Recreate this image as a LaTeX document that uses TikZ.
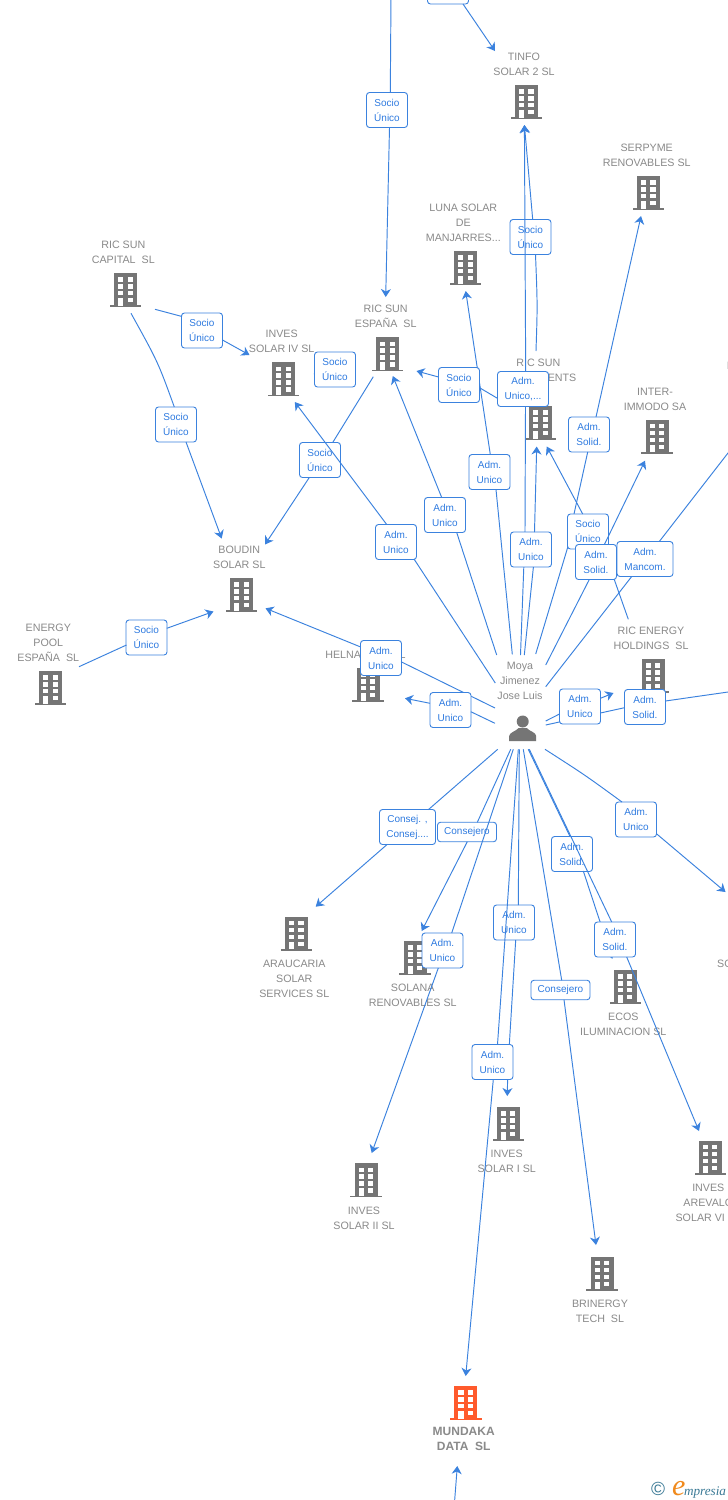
\documentclass[tikz,border=0pt]{standalone}
\usepackage{fontspec}
\setmainfont{Liberation Sans}
\newfontfamily\serifit[ItalicFont=Liberation Serif Italic]{Liberation Serif}
\usetikzlibrary{arrows.meta}
\definecolor{linkblue}{HTML}{3B82DE}
\definecolor{textblue}{HTML}{2F7BE0}
\definecolor{lblgray}{HTML}{8A8A8A}
\definecolor{bgray}{HTML}{757575}
\definecolor{borange}{HTML}{FF5A2C}
\definecolor{eteal}{HTML}{3B7A96}
\definecolor{eorange}{HTML}{F08A1D}
\newcommand\bp[3]{([shift={(#2,#3)}]#1.center)}
\newcommand\tower[1]{%
  \begin{scope}[shift={(path picture bounding box.center)}]
    \fill[#1] (-11.5,-17) rectangle (11.5,15.6);
    \fill[#1] (-15.7,15.4) rectangle (15.7,17);
    \foreach \yy in {-12.7,-5.9,1,8}{\fill[white] (-7.5,\yy) rectangle (-2.3,\yy+4.4);}
    \foreach \yy in {-12.7,-5.9,1,8}{\fill[white] (1.9,\yy) rectangle (7.1,\yy+4.4);}
    \fill[white] (-7.5,8) rectangle (-2.3,15.6);
  \end{scope}}
\tikzset{
  bldg/.style={minimum width=32,minimum height=34,inner sep=0,outer sep=0,path picture={\tower{bgray}}},
  bldgo/.style={minimum width=32,minimum height=34,inner sep=0,outer sep=0,path picture={\tower{borange}}},
  lbl/.style={align=center,inner sep=0,text=lblgray,yshift=-0.6pt,font=\fontsize{10.7}{15}\selectfont},
  boxn/.style={draw=linkblue,fill=white,line width=0.9pt,rounded corners=3pt,minimum width=41,minimum height=35,inner sep=0,outer sep=0,align=center,text=textblue,font=\fontsize{10}{15}\selectfont},
  edge/.style={draw=linkblue,line width=0.95pt},
  arr/.style={edge,-{Stealth[length=8pt,width=10pt,inset=2.5pt]}},
}
\begin{document}
\begin{tikzpicture}[x=1pt,y=-1pt]
\useasboundingbox (0,0) rectangle (728,1500);
\clip (0,0) rectangle (728,1500);
\fill[white] (0,0) rectangle (728,1500);
% companies
\node[bldg] (tinfo) at (526.5,102) {};
\node[lbl] (tinfoL) at (524,63.5) {TINFO\\SOLAR 2 SL};
\node[bldg] (serpyme) at (648.5,193) {};
\node[lbl] (serpymeL) at (646.7,154.5) {SERPYME\\RENOVABLES SL};
\node[bldg] (luna) at (465.7,268) {};
\node[lbl] (lunaL) at (463.3,222) {LUNA SOLAR\\DE\\MANJARRES...};
\node[bldg] (espana) at (387.7,354.3) {};
\node[lbl] (espanaL) at (385.7,315.5) {RIC SUN\\ESPAÑA~~SL};
\node[bldg] (capital) at (125.7,290) {};
\node[lbl] (capitalL) at (123.3,251.5) {RIC SUN\\CAPITAL~~SL};
\node[bldg] (solar4) at (283.7,379.3) {};
\node[lbl] (solar4L) at (281.7,340.8) {INVES\\SOLAR IV SL};
\node[bldg] (boudin) at (241.7,595) {};
\node[lbl] (boudinL) at (239.3,556.5) {BOUDIN\\SOLAR SL};
\node[bldg] (energy) at (50.7,688) {};
\node[lbl] (energyL) at (48.3,642) {ENERGY\\POOL\\ESPAÑA~~SL};
\node[bldg] (helna) at (368,685) {};
\node[lbl] (helnaL) at (365.5,654) {HELNA SUN~~SL};
\node[bldg] (invest) at (540.7,423) {};
\node[lbl] (investL) at (538.3,369.5) {RIC SUN\\INVESTMENTS};
\node[bldg] (inter) at (657,436.7) {};
\node[lbl] (interL) at (655,398.5) {INTER-\\IMMODO SA};
\node[bldg] (holdings) at (653.3,676) {};
\node[lbl] (holdingsL) at (651,637.5) {RIC ENERGY\\HOLDINGS~~SL};
\node[bldg] (araucaria) at (296.5,933.7) {};
\node[lbl] (araucariaL) at (294.3,978) {ARAUCARIA\\SOLAR\\SERVICES SL};
\node[bldg] (solana) at (415,958) {};
\node[lbl] (solanaL) at (412.7,994.5) {SOLANA\\RENOVABLES SL};
\node[bldg] (ecos) at (625.3,987) {};
\node[lbl] (ecosL) at (623.3,1023.5) {ECOS\\ILUMINACION SL};
\node[bldg] (solar2) at (366,1180.3) {};
\node[lbl] (solar2L) at (364,1217.5) {INVES\\SOLAR II SL};
\node[bldg] (solar1) at (508.3,1124) {};
\node[lbl] (solar1L) at (506.7,1160.5) {INVES\\SOLAR I SL};
\node[bldg] (brinergy) at (602,1273.7) {};
\node[lbl] (brinergyL) at (600,1310.5) {BRINERGY\\TECH~~SL};
\node[bldg] (arevalo) at (710.3,1157.7) {};
\node[lbl] (arevaloL) at (708.3,1202) {INVES\\AREVALO\\SOLAR VI SL};
\node[bldgo] (mundaka) at (465.8,1403) {};
\node[lbl,font=\fontsize{12}{15}\selectfont\bfseries] (mundakaL) at (463.7,1438.5) {MUNDAKA\\DATA~~SL};
\node[lbl,anchor=west] (edgeI) at (726.6,365) {I};
\node[lbl,anchor=west] (edgeS) at (717,963) {SO};
% person
\node[lbl] (moyaL) at (520,680.5) {Moya\\Jimenez\\Jose Luis};
\node[minimum width=28,minimum height=30,inner sep=0,outer sep=0,path picture={
  \begin{scope}[shift={(path picture bounding box.center)}]
    \fill[bgray] (0,-6.5) circle (6);
    \fill[bgray] (-13.5,13) -- (-13.5,8) .. controls (-13,4) and (-7,3.5) .. (-4,0) -- (4,0) .. controls (7,3.5) and (13,4) .. (13.5,8) -- (13.5,13) -- cycle;
  \end{scope}}] (moya) at (522.7,728) {};
% named connector ends
\coordinate (m3) at (536,351);
\coordinate (mA) at (520.5,655);
\coordinate (mB) at (524.3,655);
\coordinate (m5) at (535.7,654);
\coordinate (m6) at (512.3,654.3);
\coordinate (m7) at (496.7,655);
\coordinate (m8) at (495.3,683);
\coordinate (m9) at (495,708);
\coordinate (m10) at (495,723.3);
\coordinate (m11) at (545.7,721);
\coordinate (m12) at (545.7,725);
\coordinate (m13) at (545.7,686.7);
\coordinate (m14) at (545.7,665);
\coordinate (m21) at (497.7,749.3);
\coordinate (m22) at (510.7,749.3);
\coordinate (m23) at (513.3,749.3);
\coordinate (m24) at (518.3,749.3);
\coordinate (m25) at (519.3,749.3);
\coordinate (m26) at (523.3,749.3);
\coordinate (m27) at (528.3,749.3);
\coordinate (m28) at (529.3,749.3);
\coordinate (m29) at (545,749.3);
\coordinate (inv1) at (502,401);
\coordinate (hold1) at (628.3,619.3);
\coordinate (cap1) at (155,309.3);
\coordinate (cap2) at (131,313.3);
\coordinate (esp1) at (373.3,376.7);
\coordinate (esp2) at (355,367);
\coordinate (ene1) at (79,666.7);
\coordinate (offA) at (391,-5);
\coordinate (offB) at (735,444);
\coordinate (offC) at (735,691);
\coordinate (offD) at (454.3,1505);
\coordinate (tTinfoA) at (495,51);
\coordinate (tTinfoB) at (524.4,125);
\coordinate (tEspA) at (385.7,297);
\coordinate (tEspB) at (392.8,376);
\coordinate (tEspC) at (416.5,371);
\coordinate (tLuna) at (465.7,291);
\coordinate (tSerp) at (641,216);
\coordinate (tInvA) at (536.7,446.5);
\coordinate (tInvB) at (546.7,446.5);
\coordinate (tInter) at (645,460.7);
\coordinate (tHold) at (613.5,693);
\coordinate (tS4A) at (249.5,355);
\coordinate (tS4B) at (294.8,402);
\coordinate (tS4C) at (313.5,374);
\coordinate (tBouA) at (221.7,538.5);
\coordinate (tBouB) at (265,544.5);
\coordinate (tBouC) at (213.5,611.5);
\coordinate (tBouD) at (265.5,608.3);
\coordinate (tHel) at (405,698.3);
\coordinate (tArau) at (315.7,906.7);
\coordinate (tSola) at (421.7,931);
\coordinate (tS2) at (371.7,1153);
\coordinate (tS1) at (507.3,1096);
\coordinate (tMun) at (465.7,1376);
\coordinate (tBrin) at (596,1245);
\coordinate (tEcos) at (612.3,958.8);
\coordinate (tArev) at (699,1131);
\coordinate (tRight) at (725.5,892);
\coordinate (tMunB) at (457.3,1466);
% top
\node[boxn] (sa) at (448,-13.5) {};
\draw[arr] \bp{sa}{15}{17.5} -- (tTinfoA);
\node[boxn] (s1) at (387,110) {Socio\\Único};
\draw[edge] (offA) -- \bp{s1}{3.3}{-17.5};
\draw[arr] \bp{s1}{2.5}{17.5} -- (tEspA);
\node[boxn] (s2) at (530.5,237) {Socio\\Único};
\draw[edge] (m3) .. controls (537.5,305) .. \bp{s2}{5}{17.5};
\draw[arr] \bp{s2}{2.2}{-17.5} -- (tTinfoB);
% luna
\node[boxn] (a3) at (489.5,472) {Adm.\\Unico};
\draw[edge] (m6) -- \bp{a3}{6.5}{17.5};
\draw[arr] \bp{a3}{0.8}{-17.5} -- (tLuna);
% socio to españa
\node[boxn] (s8) at (459,385) {Socio\\Único};
\draw[edge] (inv1) -- \bp{s8}{20.5}{2.7};
\draw[arr] \bp{s8}{-20.5}{-8} -- (tEspC);
\node[boxn,minimum width=51] (a1) at (523,389) {Adm.\\Unico,...};
\draw[edge] (mA) -- (523.8,567) -- (525,531) -- \bp{a1}{2.5}{17.5};
\draw[arr] \bp{a1}{2.7}{-17.5} -- (tTinfoB);
\node[boxn] (a6) at (531,549.5) {Adm.\\Unico};
\draw[edge] (mB) -- \bp{a6}{2.4}{17.5};
\draw[arr] \bp{a6}{3.5}{-17.5} -- (tInvA);
% serpyme
\node[boxn] (a2) at (589,434.5) {Adm.\\Solid.};
\draw[edge] (m5) -- (567.5,548) -- (574,514) -- \bp{a2}{-1.3}{17.5};
\draw[arr] \bp{a2}{7}{-17.5} -- (tSerp);
\node[boxn] (s9) at (588,531.5) {Socio\\Único};
\draw[edge] (hold1) -- \bp{s9}{15.5}{17.5};
\draw[arr] \bp{s9}{-5.3}{-17.5} -- (tInvB);
\node[boxn] (a7) at (596,562) {Adm.\\Solid.};
\draw[edge] (m14) -- \bp{a7}{-6.7}{17.5};
\draw[arr] \bp{a7}{8.4}{-17.5} -- (tInter);
\node[boxn,minimum width=56] (a8) at (645,559) {Adm.\\Mancom.};
\draw[edge] (m13) -- \bp{a8}{-13.3}{17.5};
\draw[edge] \bp{a8}{14.3}{-17.5} -- (offB);
% left
\node[boxn] (s6) at (320,460) {Socio\\Único};
\draw[edge] (esp1) -- \bp{s6}{12.7}{-17.5};
\draw[arr] \bp{s6}{-10.7}{17.5} -- (tBouB);
\node[boxn] (a5) at (396,542) {Adm.\\Unico};
\draw[edge] (m8) -- \bp{a5}{18}{17};
\draw[arr] \bp{a5}{-9.3}{-17.5} -- (tS4B);
\node[boxn] (a4) at (445,515) {Adm.\\Unico};
\draw[edge] (m7) -- \bp{a4}{11.7}{17.5};
\draw[arr] \bp{a4}{-3.3}{-17.5} -- (tEspB);
\node[boxn] (s3) at (202,330.5) {Socio\\Único};
\draw[edge] (cap1) -- \bp{s3}{-20}{-14};
\draw[arr] \bp{s3}{20.5}{9.5} -- (tS4A);
\node[boxn] (s5) at (176,424.5) {Socio\\Único};
\draw[edge] (cap2) .. controls (158,362) .. \bp{s5}{-1.7}{-17.5};
\draw[arr] \bp{s5}{10}{17.5} -- (tBouA);
\node[boxn] (s7) at (146.5,637.5) {Socio\\Único};
\draw[edge] (ene1) -- \bp{s7}{-20}{7.5};
\draw[arr] \bp{s7}{20.3}{-9.2} -- (tBouC);
\draw[arr] (esp2) -- (tS4C);
\node[boxn] (s4) at (335,369.5) {Socio\\Único};
% right of person
\node[boxn] (a9) at (381,658) {Adm.\\Unico};
\draw[edge] (m9) -- \bp{a9}{20}{3.7};
\draw[arr] \bp{a9}{-20.3}{-11} -- (tBouD);
\node[boxn] (a10) at (450.5,710) {Adm.\\Unico};
\draw[edge] (m10) -- \bp{a10}{20.3}{1.7};
\draw[arr] \bp{a10}{-20.5}{-6.7} -- (tHel);
\node[boxn] (a12) at (645,707) {Adm.\\Solid.};
\draw[edge] (m12) -- \bp{a12}{-20.5}{0.7};
\draw[edge] \bp{a12}{20.4}{-6} -- (offC);
\node[boxn] (a11) at (580,706.5) {Adm.\\Unico};
\draw[edge] (m11) -- \bp{a11}{-20.5}{7.5};
\draw[arr] \bp{a11}{20.4}{-8.2} -- (tHold);
% below person
\node[boxn,minimum width=56] (c1) at (407.5,827) {Consej. ,\\Consej....};
\draw[edge] (m21) -- \bp{c1}{20.8}{-17.3};
\draw[arr] \bp{c1}{-20.2}{17.3} -- (tArau);
\node[boxn,minimum width=59,minimum height=19.5] (c2) at (467,832) {Consejero};
\draw[edge] (m22) -- \bp{c2}{10.3}{-9.7};
\draw[arr] \bp{c2}{0.3}{9.7} -- (tSola);
\node[boxn] (a15) at (442.5,950.5) {Adm.\\Unico};
\draw[edge] (m23) -- \bp{a15}{9.2}{-17.5};
\draw[arr] \bp{a15}{-4.2}{17.5} -- (tS2);
\node[boxn] (a16) at (514,922.5) {Adm.\\Unico};
\draw[edge] (m25) -- \bp{a16}{4.3}{-17.5};
\draw[arr] \bp{a16}{1.7}{17.5} -- (509.6,1040) -- (507.6,1079) -- (tS1);
\node[boxn] (a18) at (492.5,1062) {Adm.\\Unico};
\draw[edge] (m24) -- \bp{a18}{5}{-17.5};
\draw[arr] \bp{a18}{0.8}{17.5} -- (tMun);
\node[boxn] (a13) at (572,854) {Adm.\\Solid.};
\draw[edge] (m27) -- \bp{a13}{-2}{-17.5};
\draw[arr] \bp{a13}{11.3}{17} -- (600,921.7) -- (tEcos);
\node[boxn] (a17) at (615,939.5) {Adm.\\Solid.};
\draw[edge] (m28) -- \bp{a17}{-3.3}{-17.5};
\draw[arr] \bp{a17}{11.7}{17.5} -- (tArev);
\node[boxn,minimum width=59,minimum height=19.5] (c3) at (560.5,990) {Consejero};
\draw[edge] (m26) -- \bp{c3}{1.2}{-9.7};
\draw[arr] \bp{c3}{3.5}{9.7} -- (tBrin);
\node[boxn] (a14) at (636,819.5) {Adm.\\Unico};
\draw[edge] (m29) .. controls (585,775) .. \bp{a14}{-14}{-17.5};
\draw[arr] \bp{a14}{20.2}{14} -- (tRight);
\draw[arr] (offD) -- (tMunB);
% signature
\node[inner sep=0,text=eteal,font=\fontsize{19}{19}\selectfont] (copyr) at (658,1489) {©};
\node[inner sep=0,anchor=base west] (brand) at (672,1495) {\serifit\itshape{\color{eorange}\fontsize{30}{30}\selectfont e}\kern-1.5pt{\color{eteal}\fontsize{13.2}{13}\selectfont mpresia}};
\end{tikzpicture}
\end{document}
